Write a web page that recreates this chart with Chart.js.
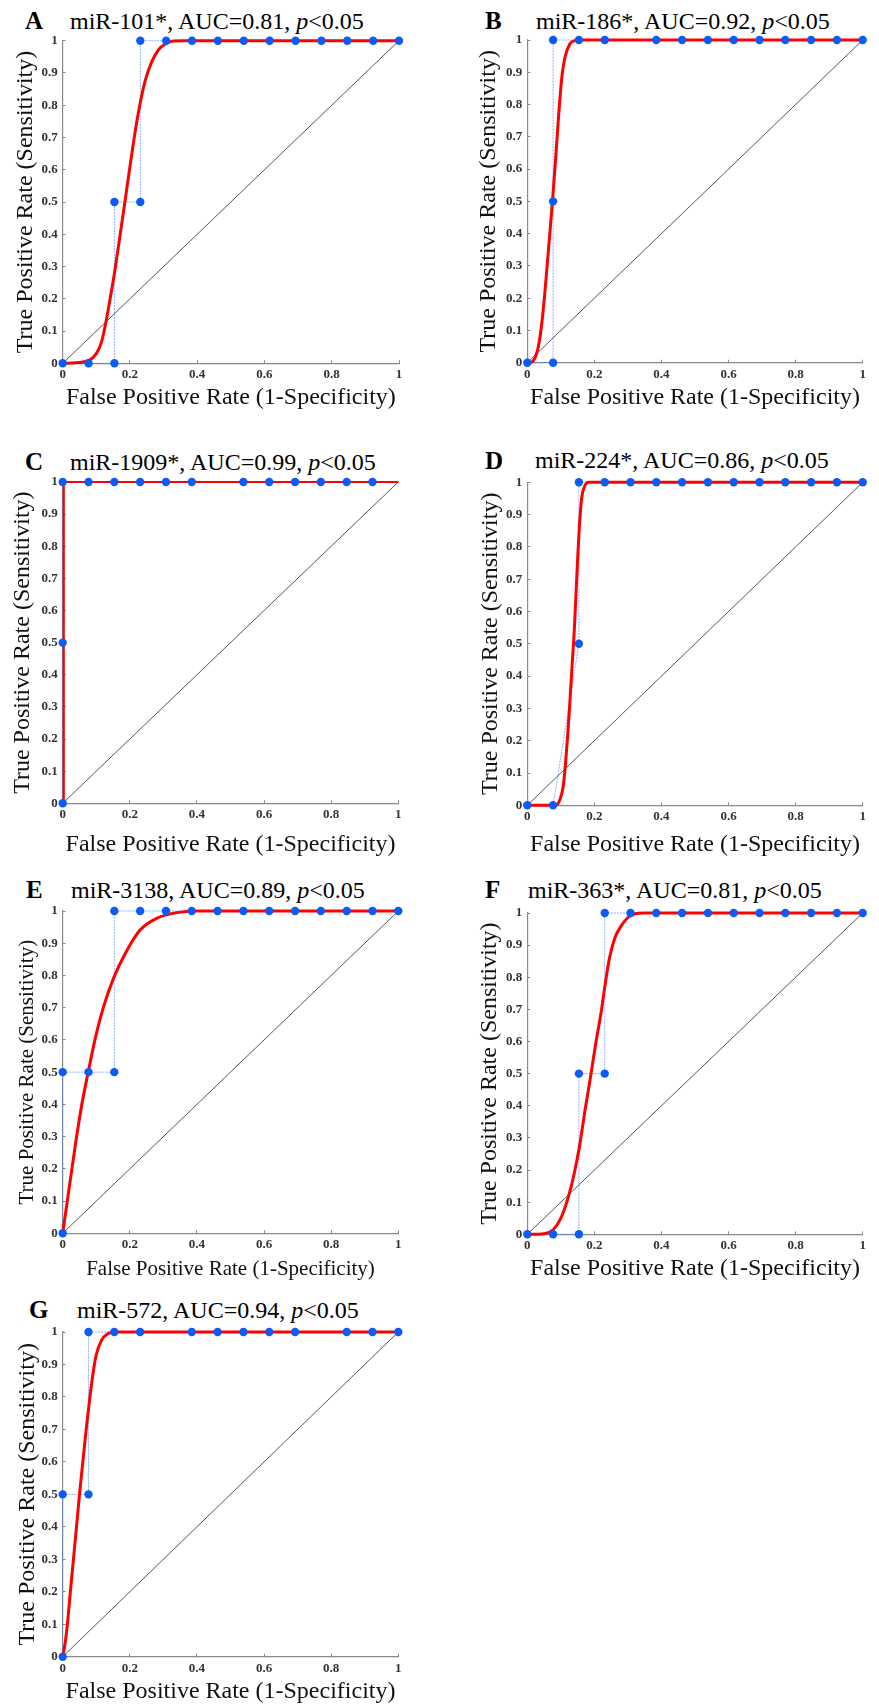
<!DOCTYPE html>
<html>
<head>
<meta charset="utf-8">
<script src="https://cdn.jsdelivr.net/npm/chart.js@4.4.1/dist/chart.umd.min.js"></script>
<style>
  body { margin: 0; background: #fff; width: 879px; height: 1704px; position: relative; overflow: hidden; font-family: "Liberation Serif", "Times New Roman", serif; }
  canvas { position: absolute; }
  .letter { position: absolute; font-weight: bold; font-size: 25px; line-height: 25px; color: #000; }
  .ptitle { position: absolute; font-size: 24px; line-height: 24px; white-space: nowrap; color: #000; }
</style>
</head>
<body>
<script>
// panel labels
const panelLetters = ["A", "B", "C", "D", "E", "F", "G"];
const mirNames = ["miR-101*", "miR-186*", "miR-1909*", "miR-224*", "miR-3138", "miR-363*", "miR-572"];
const aucValues = ["0.81", "0.92", "0.99", "0.86", "0.89", "0.81", "0.94"];

const xTickValues = [0, 0.2, 0.4, 0.6, 0.8, 1];
const xTickLabels = ["0", "0.2", "0.4", "0.6", "0.8", "1"];
const yTickValues = [0, 0.1, 0.2, 0.3, 0.4, 0.5, 0.6, 0.7, 0.8, 0.9, 1];
const yTickLabels = ["0", "0.1", "0.2", "0.3", "0.4", "0.5", "0.6", "0.7", "0.8", "0.9", "1"];
const xAxisTitle = "False Positive Rate (1-Specificity)";
const yAxisTitle = "True Positive Rate (Sensitivity)";

// chance line
const diagX = [0, 1];
const diagY = [0, 1];

// empirical ROC points (blue)
const rocA_x = [0, 0.0769, 0.1538, 0.1538, 0.2308, 0.2308, 0.3077, 0.3846, 0.4615, 0.5385, 0.6154, 0.6923, 0.7692, 0.8462, 0.9231, 1];
const rocA_y = [0, 0, 0, 0.5, 0.5, 1, 1, 1, 1, 1, 1, 1, 1, 1, 1, 1];
const rocB_x = [0, 0.0769, 0.0769, 0.0769, 0.1538, 0.2308, 0.3846, 0.4615, 0.5385, 0.6154, 0.6923, 0.7692, 0.8462, 0.9231, 1];
const rocB_y = [0, 0, 0.5, 1, 1, 1, 1, 1, 1, 1, 1, 1, 1, 1, 1];
const rocC_x = [0, 0, 0, 0.0769, 0.1538, 0.2308, 0.3077, 0.3846, 0.5385, 0.6154, 0.6923, 0.7692, 0.8462, 0.9231];
const rocC_y = [0, 0.5, 1, 1, 1, 1, 1, 1, 1, 1, 1, 1, 1, 1];
const rocD_x = [0, 0.0769, 0.1538, 0.1538, 0.2308, 0.3077, 0.3846, 0.4615, 0.5385, 0.6154, 0.6923, 0.7692, 0.8462, 0.9231, 1];
const rocD_y = [0, 0, 0.5, 1, 1, 1, 1, 1, 1, 1, 1, 1, 1, 1, 1];
const rocE_x = [0, 0, 0.0769, 0.1538, 0.1538, 0.2308, 0.3077, 0.3846, 0.4615, 0.5385, 0.6154, 0.6923, 0.7692, 0.8462, 0.9231, 1];
const rocE_y = [0, 0.5, 0.5, 0.5, 1, 1, 1, 1, 1, 1, 1, 1, 1, 1, 1, 1];
const rocF_x = [0, 0.0769, 0.1538, 0.1538, 0.2308, 0.2308, 0.3077, 0.3846, 0.4615, 0.5385, 0.6154, 0.6923, 0.7692, 0.8462, 0.9231, 1];
const rocF_y = [0, 0, 0, 0.5, 0.5, 1, 1, 1, 1, 1, 1, 1, 1, 1, 1, 1];
const rocG_x = [0, 0, 0.0769, 0.0769, 0.1538, 0.2308, 0.3846, 0.4615, 0.5385, 0.6154, 0.6923, 0.8462, 0.9231, 1];
const rocG_y = [0, 0.5, 0.5, 1, 1, 1, 1, 1, 1, 1, 1, 1, 1, 1];

// fitted curves (red)
const fitA_x = [0, 0.04, 0.076, 0.1, 0.115, 0.128, 0.141, 0.154, 0.171, 0.187, 0.2, 0.215, 0.231, 0.245, 0.265, 0.285, 0.305, 0.33, 0.36, 1];
const fitA_y = [0, 0.002, 0.008, 0.03, 0.065, 0.125, 0.2, 0.28, 0.4, 0.515, 0.61, 0.715, 0.81, 0.875, 0.935, 0.972, 0.99, 0.999, 1, 1];
const fitB_x = [0, 0.013, 0.023, 0.033, 0.043, 0.053, 0.063, 0.075, 0.085, 0.093, 0.102, 0.112, 0.127, 0.142, 0.16, 1];
const fitB_y = [0, 0.002, 0.015, 0.05, 0.12, 0.225, 0.35, 0.5, 0.64, 0.76, 0.875, 0.945, 0.988, 0.998, 1, 1];
const fitC_x = [0.003, 0.003, 1];
const fitC_y = [0, 1, 1];
const fitD_x = [0, 0.087, 0.097, 0.107, 0.114, 0.12, 0.127, 0.134, 0.14, 0.145, 0.15, 0.155, 0.162, 0.172, 0.182, 1];
const fitD_y = [0, 0, 0.017, 0.058, 0.13, 0.21, 0.32, 0.44, 0.54, 0.65, 0.76, 0.86, 0.95, 0.99, 1, 1];
const fitE_x = [0, 0.015, 0.04, 0.057, 0.076, 0.096, 0.121, 0.151, 0.19, 0.23, 0.28, 0.34, 0.4, 1];
const fitE_y = [0, 0.11, 0.29, 0.4, 0.5, 0.6, 0.7, 0.79, 0.875, 0.94, 0.977, 0.995, 1, 1];
const fitF_x = [0, 0.05, 0.078, 0.1, 0.122, 0.14, 0.155, 0.172, 0.19, 0.205, 0.22, 0.231, 0.245, 0.262, 0.28, 0.3, 0.32, 0.35, 1];
const fitF_y = [0, 0.002, 0.015, 0.05, 0.115, 0.19, 0.27, 0.385, 0.5, 0.6, 0.69, 0.77, 0.86, 0.925, 0.96, 0.986, 0.997, 1, 1];
const fitG_x = [0, 0.007, 0.014, 0.022, 0.032, 0.042, 0.05, 0.06, 0.07, 0.08, 0.09, 0.1, 0.116, 0.135, 0.156, 1];
const fitG_y = [0, 0.04, 0.1, 0.19, 0.3, 0.41, 0.5, 0.6, 0.7, 0.79, 0.87, 0.93, 0.975, 0.995, 1, 1];

const rocX = [rocA_x, rocB_x, rocC_x, rocD_x, rocE_x, rocF_x, rocG_x];
const rocY = [rocA_y, rocB_y, rocC_y, rocD_y, rocE_y, rocF_y, rocG_y];
const fitX = [fitA_x, fitB_x, fitC_x, fitD_x, fitE_x, fitF_x, fitG_x];
const fitY = [fitA_y, fitB_y, fitC_y, fitD_y, fitE_y, fitF_y, fitG_y];

// where each panel sits on the page
const boxes = [
  { left: 0,   top: 0,    w: 440, h: 420, padTop: 40.7, padRight: 41,   yW: 62.7, xH: 56.7, yTitlePad: 11.1, xTitlePad: 7.6, axisFont: 24, letterX: 25,  textX: 70,  titleY: 20.5 },
  { left: 440, top: 0,    w: 439, h: 420, padTop: 40,   padRight: 16.3, yW: 87.3, xH: 57.3, yTitlePad: 34.6, xTitlePad: 7.6, axisFont: 24, letterX: 485, textX: 536, titleY: 20.5 },
  { left: 0,   top: 430,  w: 440, h: 430, padTop: 52,   padRight: 41.7, yW: 62.7, xH: 56.7, yTitlePad: 8.1,  xTitlePad: 0.6, axisFont: 24, letterX: 25,  textX: 70,  titleY: 461.7 },
  { left: 440, top: 430,  w: 439, h: 430, padTop: 52.3, padRight: 16.3, yW: 87.3, xH: 54.7, yTitlePad: 36.3, xTitlePad: 0.6, axisFont: 24, letterX: 485, textX: 535, titleY: 460 },
  { left: 0,   top: 860,  w: 440, h: 425, padTop: 51,   padRight: 41.7, yW: 62.7, xH: 51.7, yTitlePad: 14.9, xTitlePad: 3.4, axisFont: 21, letterX: 26,  textX: 71,  titleY: 889.5 },
  { left: 440, top: 860,  w: 439, h: 425, padTop: 53,   padRight: 16.3, yW: 87.3, xH: 50.7, yTitlePad: 35.6, xTitlePad: 1.6, axisFont: 24, letterX: 485, textX: 528, titleY: 889.5 },
  { left: 0,   top: 1285, w: 440, h: 424, padTop: 47,   padRight: 41.7, yW: 62.7, xH: 52.3, yTitlePad: 13.1, xTitlePad: 2.6, axisFont: 24, letterX: 29,  textX: 77,  titleY: 1309.5 }
];

const fontFamily = "'Liberation Serif', 'Times New Roman', serif";
const dotBlue = "#0b5cf7";
const stepBlue = "rgba(70,125,255,0.6)";
const axisGray = "#8a8a8a";

function toPoints(xs, ys) {
  return xs.map((x, i) => ({ x: x, y: ys[i] }));
}

function drawPanel(i) {
  const b = boxes[i];

  const letter = document.createElement("div");
  letter.className = "letter";
  letter.textContent = panelLetters[i];
  letter.style.left = b.letterX + "px";
  letter.style.top = (b.titleY - 12.5) + "px";
  document.body.appendChild(letter);

  const title = document.createElement("div");
  title.className = "ptitle";
  title.innerHTML = mirNames[i] + ", AUC=" + aucValues[i] + ", <i>p</i>&lt;0.05";
  title.style.left = b.textX + "px";
  title.style.top = (b.titleY - 12) + "px";
  document.body.appendChild(title);

  const canvas = document.createElement("canvas");
  canvas.width = b.w;
  canvas.height = b.h;
  canvas.style.left = b.left + "px";
  canvas.style.top = b.top + "px";
  document.body.appendChild(canvas);

  const straight = i === 2;

  new Chart(canvas, {
    type: "line",
    data: {
      datasets: [
        {
          data: toPoints(rocX[i], rocY[i]),
          showLine: false,
          pointRadius: 4.2,
          pointBackgroundColor: dotBlue,
          pointBorderWidth: 0,
          clip: false
        },
        {
          data: toPoints(fitX[i], fitY[i]),
          borderColor: "#ff0000",
          borderWidth: straight ? 2.2 : 3,
          pointRadius: 0,
          cubicInterpolationMode: straight ? "default" : "monotone",
          tension: 0,
          clip: false
        },
        {
          data: toPoints(rocX[i], rocY[i]),
          borderColor: stepBlue,
          borderWidth: 1,
          borderDash: [2, 1],
          pointRadius: 0,
          tension: 0,
          clip: false
        },
        {
          data: toPoints(diagX, diagY),
          borderColor: "#555555",
          borderWidth: 1,
          pointRadius: 0,
          tension: 0,
          clip: false
        }
      ]
    },
    options: {
      responsive: false,
      animation: false,
      devicePixelRatio: 1,
      layout: { padding: { top: b.padTop, right: b.padRight, bottom: 0, left: 0 } },
      plugins: { legend: { display: false }, tooltip: { enabled: false } },
      scales: {
        x: {
          type: "linear",
          min: 0,
          max: 1,
          afterBuildTicks: (s) => { s.ticks = xTickValues.map((v) => ({ value: v })); },
          afterFit: (s) => { s.height = b.xH; },
          ticks: {
            callback: (v, idx) => xTickLabels[idx],
            font: { family: fontFamily, size: 13, weight: "bold" },
            color: "#333",
            padding: 6.9,
            maxRotation: 0,
            autoSkip: false
          },
          grid: { drawOnChartArea: false, tickLength: -3, color: axisGray, tickColor: axisGray },
          border: { color: axisGray, width: 1.2 },
          title: {
            display: true,
            text: xAxisTitle,
            font: { family: fontFamily, size: b.axisFont },
            color: "#111",
            padding: { top: 0, bottom: b.xTitlePad }
          }
        },
        y: {
          type: "linear",
          min: 0,
          max: 1,
          afterBuildTicks: (s) => { s.ticks = yTickValues.map((v) => ({ value: v })); },
          afterFit: (s) => { s.width = b.yW; },
          ticks: {
            callback: (v, idx) => yTickLabels[idx],
            font: { family: fontFamily, size: 13, weight: "bold" },
            color: "#333",
            padding: 8,
            autoSkip: false
          },
          grid: { drawOnChartArea: false, tickLength: -3, color: axisGray, tickColor: axisGray },
          border: { color: axisGray, width: 1.2 },
          title: {
            display: true,
            text: yAxisTitle,
            font: { family: fontFamily, size: b.axisFont },
            color: "#111",
            padding: { top: b.yTitlePad, bottom: 0 }
          }
        }
      }
    }
  });
}

for (let i = 0; i < boxes.length; i++) {
  drawPanel(i);
}
</script>
</body>
</html>
